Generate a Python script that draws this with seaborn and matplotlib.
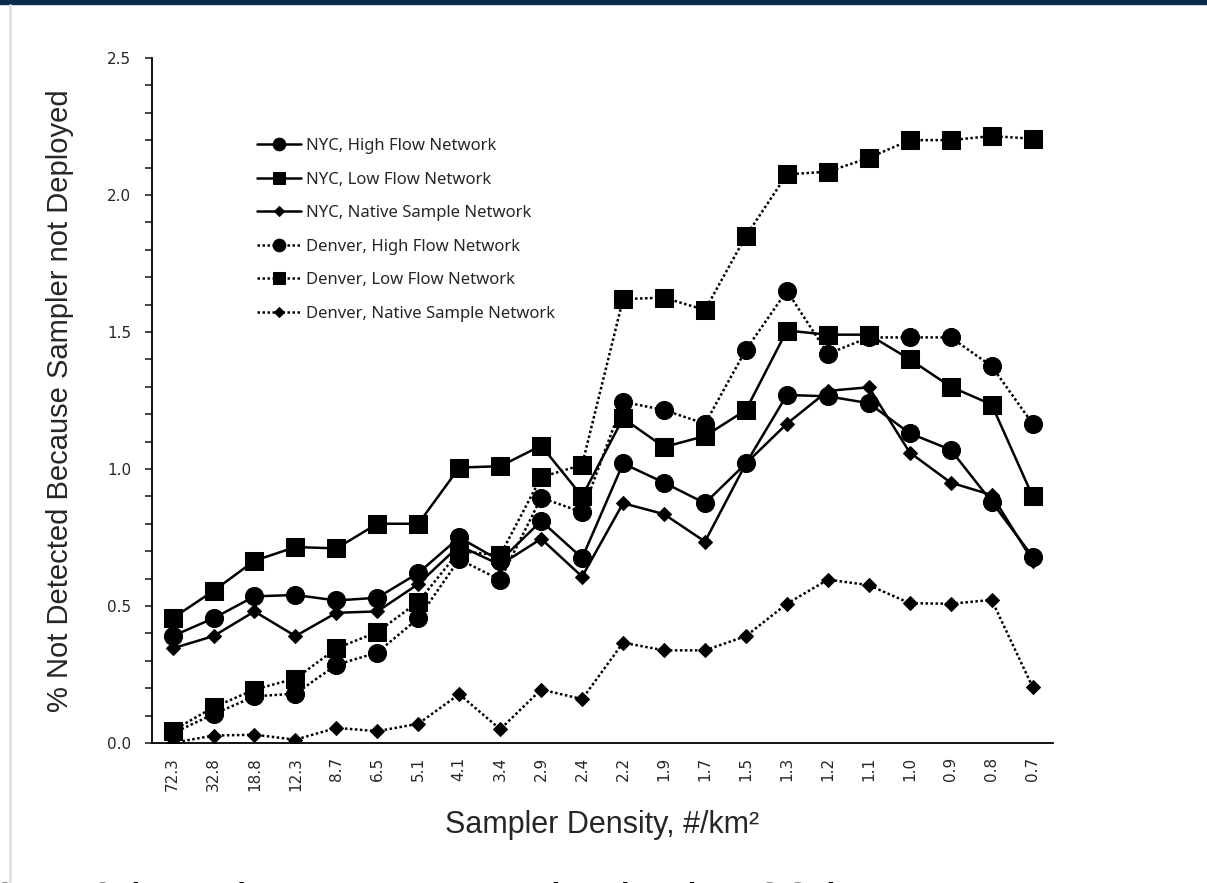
import numpy as np
import pandas as pd
import seaborn as sns
import matplotlib.pyplot as plt
import matplotlib.ticker as ticker
from matplotlib.patches import Rectangle
from matplotlib.lines import Line2D

# sampler density categories (#/km2), as printed on the x axis
densities = ["72.3", "32.8", "18.8", "12.3", "8.7", "6.5", "5.1", "4.1", "3.4", "2.9", "2.4",
             "2.2", "1.9", "1.7", "1.5", "1.3", "1.2", "1.1", "1.0", "0.9", "0.8", "0.7"]

# % not detected because sampler not deployed
nyc_high = [0.39, 0.455, 0.535, 0.54, 0.52, 0.53, 0.62, 0.75, 0.665, 0.81, 0.675,
            1.02, 0.95, 0.875, 1.02, 1.27, 1.265, 1.24, 1.13, 1.07, 0.88, 0.68]
nyc_low = [0.455, 0.555, 0.665, 0.715, 0.71, 0.80, 0.80, 1.005, 1.01, 1.085, 0.90,
           1.185, 1.08, 1.12, 1.215, 1.505, 1.49, 1.49, 1.40, 1.30, 1.235, 0.90]
nyc_native = [0.345, 0.39, 0.48, 0.39, 0.475, 0.48, 0.58, 0.72, 0.65, 0.745, 0.607,
              0.875, 0.835, 0.735, 1.02, 1.165, 1.285, 1.298, 1.06, 0.95, 0.905, 0.665]
den_high = [0.035, 0.105, 0.17, 0.18, 0.285, 0.33, 0.455, 0.67, 0.595, 0.895, 0.842,
            1.245, 1.215, 1.165, 1.435, 1.65, 1.42, 1.48, 1.48, 1.48, 1.375, 1.165]
den_low = [0.045, 0.13, 0.195, 0.235, 0.345, 0.405, 0.515, 0.70, 0.685, 0.97, 1.015,
           1.62, 1.625, 1.58, 1.85, 2.075, 2.085, 2.135, 2.20, 2.20, 2.215, 2.205]
den_native = [0.0, 0.027, 0.03, 0.012, 0.055, 0.043, 0.07, 0.178, 0.05, 0.195, 0.16,
              0.366, 0.338, 0.338, 0.39, 0.508, 0.596, 0.576, 0.51, 0.508, 0.522, 0.204]

series_names = ["NYC, High Flow Network", "NYC, Low Flow Network", "NYC, Native Sample Network",
                "Denver, High Flow Network", "Denver, Low Flow Network", "Denver, Native Sample Network"]
series_values = [nyc_high, nyc_low, nyc_native, den_high, den_low, den_native]

# style per series: marker, marker size, line style
styles = {
    "NYC, High Flow Network": ("o", 13, "-"),
    "NYC, Low Flow Network": ("s", 13, "-"),
    "NYC, Native Sample Network": ("D", 7.5, "-"),
    "Denver, High Flow Network": ("o", 13, (0, (1, 1))),
    "Denver, Low Flow Network": ("s", 13, (0, (1, 1))),
    "Denver, Native Sample Network": ("D", 7.5, (0, (1, 1))),
}

rows = []
for name, vals in zip(series_names, series_values):
    for i, v in enumerate(vals):
        rows.append({"pos": i, "value": v, "series": name})
df = pd.DataFrame(rows)

sns.set_style("ticks")
plt.rcParams['font.family'] = ['DejaVu Sans']

fig = plt.figure(figsize=(12.07, 8.83), dpi=100)
ax = fig.add_axes([0.126, 0.1586, 0.7465, 0.7758])

for name in series_names:
    marker, ms, ls = styles[name]
    sub = df[df["series"] == name]
    sns.lineplot(data=sub, x="pos", y="value", ax=ax, color="black", marker=marker,
                 markersize=ms, markeredgecolor="black", linestyle=ls, linewidth=1.8,
                 label=name, sort=False)

ax.set_xlim(-0.5, len(densities) - 0.5)
ax.set_ylim(0, 2.5)
ax.set_xticks(range(len(densities)))
ax.set_xticklabels(densities, rotation=90, fontsize=11)
ax.yaxis.set_major_locator(ticker.MultipleLocator(0.5))
ax.yaxis.set_minor_locator(ticker.MultipleLocator(0.1))
ax.yaxis.set_major_formatter(ticker.FormatStrFormatter("%.1f"))
ax.tick_params(axis="y", which="both", direction="out", length=5, width=1.2, labelsize=11, pad=10)
ax.tick_params(axis="x", length=0, pad=10)
sns.despine(ax=ax)
for sp in ["left", "bottom"]:
    ax.spines[sp].set_linewidth(1.3)
    ax.spines[sp].set_color("black")

label_font = ['Liberation Sans', 'DejaVu Sans']
ax.set_xlabel("Sampler Density, #/km²", fontsize=22, family=label_font, labelpad=14)
ax.set_ylabel("% Not Detected Because Sampler not Deployed", fontsize=21, family=label_font, labelpad=24)

leg = ax.legend(loc="upper left", bbox_to_anchor=(0.10, 0.905), frameon=False,
                prop={"family": ["Noto Sans", "DejaVu Sans"], "size": 12},
                handlelength=2.6, handletextpad=0.3, labelspacing=1.05, markerscale=0.7)

# slide decoration: top bar, left border, clipped caption under the chart
fig.patches.append(Rectangle((0, 1 - 4 / 883), 1, 4 / 883, transform=fig.transFigure,
                             color="#0b2a4b", zorder=0))
fig.lines.append(Line2D([10 / 1207, 10 / 1207], [0, 1 - 5 / 883], transform=fig.transFigure,
                        color="#e2e2e2", linewidth=2))
fig.text(-9 / 1207, -35 / 883, "0.472 locations per sampler in the 32 km²", fontsize=36,
         family=["Liberation Sans", "DejaVu Sans"], va="baseline", ha="left", color="black")

plt.savefig("out.png", dpi=100)
